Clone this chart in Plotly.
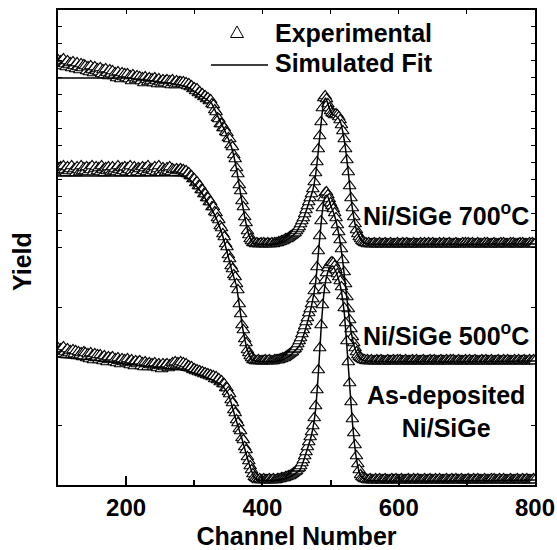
import plotly.graph_objects as go

# ---------------- data ----------------
channels = list(range(100, 801, 2))          # channel grid of the experimental spectra

exp_700 = [
    184,179,183,178,185,180,177,183,179,181,
    176,182,178,175,181,177,174,180,176,179,
    178,173,177,172,178,174,171,177,173,175,
    172,176,170,174,169,175,171,168,174,170,
    173,168,171,166,172,168,165,171,167,170,
    166,170,165,168,163,169,166,164,168,165,
    167,163,166,161,167,164,162,166,163,165,
    161,166,163,160,165,162,160,164,161,163,
    164,160,163,159,164,161,159,163,160,162,
    162,160,162,159,161,158,160,157,158,155,
    156,153,155,151,152,149,150,147,148,145,
    146,143,144,140,139,134,132,126,125,120,
    120,116,116,112,111,106,105,99,97,89,
    85,76,70,59,53,43,37,27,21,13,
    9,5,3,1,1,0,1,0,0,1,
    0,1,0,0,1,0,0,1,0,1,
    1,1,2,2,3,3,4,5,5,6,
    7,8,9,10,11,13,15,17,20,23,
    26,30,34,38,42,46,50,55,62,71,
    82,95,108,122,136,146,148,145,140,136,
    133,131,130,129,130,129,127,124,119,113,
    105,95,84,72,58,46,36,27,20,14,
    10,7,5,3,2,1,1,0,1,0,
    0,0,1,0,0,0,1,0,0,0,
    1,0,0,0,1,0,0,0,0,1,
    0,0,0,1,0,0,1,0,0,0,
    0,1,0,0,0,0,1,0,0,1,
    0,0,1,0,0,1,0,0,0,0,
    1,0,0,1,0,0,0,1,0,0,
    0,0,1,0,0,0,0,1,0,1,
    0,1,0,0,1,0,0,0,1,0,
    0,0,0,1,0,1,0,0,0,0,
    1,0,0,0,0,1,0,1,0,0,
    0,0,1,0,1,0,0,0,0,1,
    0,1,0,0,0,0,1,0,1,0,
    0,
]

exp_500 = [
    193,189,194,190,195,191,188,194,190,192,
    195,190,192,188,194,191,189,195,190,193,
    190,194,189,193,191,195,189,192,194,190,
    193,189,195,191,188,193,190,194,191,189,
    194,190,192,189,195,191,188,193,190,194,
    189,193,191,195,190,188,194,191,189,193,
    192,188,194,190,193,189,195,191,188,192,
    190,194,189,192,195,190,188,193,191,189,
    193,190,194,189,192,191,188,192,190,191,
    192,190,191,189,190,187,188,185,185,182,
    182,178,179,175,175,171,171,167,167,163,
    163,159,159,154,154,149,148,143,141,135,
    133,127,124,117,114,106,102,95,92,86,
    84,77,71,57,47,36,31,22,18,11,
    8,5,3,1,1,0,0,1,0,0,
    0,0,1,0,0,1,0,0,0,1,
    1,1,1,2,2,3,3,4,5,6,
    7,8,9,11,12,14,17,20,23,27,
    31,35,39,43,48,52,57,62,70,80,
    94,110,125,140,153,163,168,169,166,162,
    158,155,152,148,143,136,129,121,112,101,
    89,77,64,52,41,32,24,18,13,9,
    6,4,3,2,1,1,0,1,0,0,
    1,0,0,0,1,0,0,1,0,0,
    0,0,1,0,0,0,1,0,0,1,
    0,1,0,0,0,1,0,0,0,0,
    1,0,0,1,0,0,0,0,1,0,
    0,0,0,1,0,0,1,0,0,0,
    0,1,0,0,0,1,0,0,1,0,
    1,0,0,0,1,0,0,0,0,1,
    0,0,1,0,0,0,1,0,0,0,
    0,1,0,0,1,0,0,0,1,0,
    0,0,0,1,0,0,0,1,0,0,
    1,0,0,0,0,1,0,0,1,0,
    0,0,1,0,0,0,1,0,0,1,
    0,
]

exp_as = [
    132,127,131,126,133,128,125,131,127,129,
    125,130,126,129,124,128,125,127,123,128,
    127,122,126,121,127,124,120,126,122,125,
    120,125,122,119,124,121,118,123,120,122,
    123,118,121,117,122,119,116,121,118,120,
    117,121,118,115,120,117,114,119,116,118,
    119,114,117,113,118,116,113,117,115,116,
    113,117,114,112,116,114,111,116,113,115,
    116,112,115,113,117,114,118,115,117,116,
    118,115,117,114,116,113,114,112,113,110,
    111,109,110,108,109,107,108,106,107,105,
    106,104,105,103,104,101,103,100,101,98,
    99,96,96,92,92,88,86,80,77,70,
    67,60,57,51,49,42,40,33,30,23,
    19,14,10,6,3,2,1,0,1,0,
    0,1,0,0,0,1,0,0,1,0,
    0,1,1,1,2,2,2,3,3,4,
    4,5,6,7,8,9,11,12,14,17,
    20,24,28,33,38,43,48,54,62,74,
    90,110,132,155,175,190,200,207,212,215,
    217,218,217,214,210,206,203,199,193,184,
    172,157,139,118,97,78,61,47,35,24,
    16,10,5,3,2,1,1,0,0,1,
    0,0,0,1,0,0,1,0,0,0,
    1,0,0,0,0,1,0,0,1,0,
    0,0,1,0,0,0,0,1,0,0,
    0,1,0,0,1,0,0,0,0,1,
    0,0,0,1,0,0,0,1,0,0,
    1,0,0,0,0,1,0,0,0,1,
    0,0,1,0,0,0,1,0,0,0,
    0,1,0,0,0,1,0,0,1,0,
    0,0,0,1,0,0,0,0,1,0,
    1,0,0,0,1,0,0,1,0,0,
    0,0,1,0,0,0,0,1,0,0,
    0,1,0,0,1,0,0,0,0,1,
    0,
]

fit_700_ch = [100,150,200,240,270,290,310,325,335,345,355,362,368,374,380,386,392,420,430,440,
              450,460,468,474,478,482,486,490,493,497,502,508,514,518,522,526,530,534,538,544,
              550,556,800]
fit_700 = [166,166,166,163,160,157,148,141,127,113,96,75,50,27,9,1,0,0,2,6,
           12,25,41,54,69,93,120,143,146,138,130,128,123,112,95,72,46,27,14,5,
           1,0,0]

fit_500_ch = [100,200,280,290,300,310,320,330,340,350,356,362,366,372,378,384,390,425,440,455,
              465,472,478,484,488,492,495,500,506,512,518,524,530,536,544,552,800]
fit_500 = [185,185,185,183,177,169,158,146,129,104,88,75,56,29,11,2,0,0,5,16,
           36,55,78,122,150,165,166,156,145,127,99,62,30,12,2,0,0]

fit_as_ch = [100,150,200,250,280,300,320,340,350,360,370,380,388,394,425,440,455,465,472,478,
             482,486,490,494,498,503,508,514,520,526,532,538,544,552,800]
fit_as = [123,120,116,112,110,107,102,95,86,63,41,17,3,0,0,3,10,29,45,70,
          106,150,185,203,211,214,208,195,168,114,58,21,4,0,0]

# vertical stacking offsets of the three spectra (yield units)
offset_700 = 236
offset_500 = 119
offset_as = 0

x_ticks = [200, 400, 600, 800]
x_minor = [300, 500, 700]
x_top_ticks = [200, 300, 400, 500, 600, 700]

# ---------------- figure ----------------
FONT = "Liberation Sans, Arial, Helvetica, sans-serif"
W, H = 557, 550
L, R, T, B = 58, 22, 10, 65
PW, PH = W - L - R, H - T - B


def P(px, py):
    """pixel position -> paper coordinates"""
    return (px - L) / PW, (H - B - py) / PH


fig = go.Figure()

marker = dict(symbol="triangle-up", size=11, color="white",
              line=dict(color="black", width=1.2))

for vals, off in [(exp_700, offset_700), (exp_500, offset_500), (exp_as, offset_as)]:
    fig.add_trace(go.Scatter(x=channels, y=[v + off for v in vals], mode="markers",
                             marker=marker, showlegend=False, hoverinfo="skip"))

for chs, vals, off in [(fit_700_ch, fit_700, offset_700), (fit_500_ch, fit_500, offset_500),
                       (fit_as_ch, fit_as, offset_as)]:
    fig.add_trace(go.Scatter(x=chs, y=[v + off for v in vals], mode="lines",
                             line=dict(color="black", width=1.5, shape="spline", smoothing=0.4),
                             xaxis="x2", showlegend=False, hoverinfo="skip"))

fig.update_layout(
    width=W, height=H,
    margin=dict(l=L, r=R, t=T, b=B, autoexpand=False),
    paper_bgcolor="white", plot_bgcolor="white",
    showlegend=False,
    font=dict(family=FONT, color="black"),
    xaxis=dict(range=[100, 800], showline=True, linewidth=2, linecolor="black",
               mirror=False, showgrid=False, zeroline=False, automargin=False,
               ticks="inside", tickvals=x_ticks, ticktext=[str(v) for v in x_ticks],
               ticklen=9, tickwidth=1.5, tickcolor="black",
               tickfont=dict(family=FONT, size=24, weight="bold"),
               minor=dict(tickvals=x_minor, ticks="inside", ticklen=5, tickwidth=1.5,
                          tickcolor="black", showgrid=False),
               title=dict(text="Channel Number", standoff=11,
                          font=dict(family=FONT, size=25, weight="bold"))),
    xaxis2=dict(overlaying="x", matches="x", side="top", anchor="y",
                showline=True, linewidth=2, linecolor="black", showgrid=False, zeroline=False,
                ticks="inside", tickvals=x_top_ticks, ticklen=4, tickwidth=1,
                tickcolor="black", showticklabels=False),
    yaxis=dict(range=[-5, 470], showline=True, linewidth=2, linecolor="black",
               mirror="ticks", showgrid=False, zeroline=False, automargin=False,
               ticks="inside", ticklen=4, tickwidth=1, tickcolor="black",
               tickvals=[454, 437, 420, 403, 386, 369, 352, 335, 318, 301, 284, 267, 250, 233,
                         173, 55],
               showticklabels=False),
)

ann = []
yx, yy = P(22, 262)
ann.append(dict(text="Yield", x=yx, y=yy, xref="paper", yref="paper", showarrow=False,
                xanchor="center", yanchor="middle",
                textangle=-90, font=dict(family=FONT, size=25, weight="bold")))

lx, ly = P(273, 33)
ann.append(dict(text="Experimental", x=lx, y=ly, xref="paper", yref="paper", showarrow=False,
                xanchor="left", yanchor="middle", font=dict(family=FONT, size=25, weight="bold")))
lx, ly = P(273, 63)
ann.append(dict(text="Simulated Fit", x=lx, y=ly, xref="paper", yref="paper", showarrow=False,
                xanchor="left", yanchor="middle", font=dict(family=FONT, size=25, weight="bold")))

tx, ty = P(531, 214)
ann.append(dict(text="Ni/SiGe 700<sup>o</sup>C", x=tx, y=ty, xref="paper", yref="paper",
                showarrow=False, xanchor="right", yanchor="middle",
                font=dict(family=FONT, size=25, weight="bold")))
tx, ty = P(531, 334)
ann.append(dict(text="Ni/SiGe 500<sup>o</sup>C", x=tx, y=ty, xref="paper", yref="paper",
                showarrow=False, xanchor="right", yanchor="middle",
                font=dict(family=FONT, size=25, weight="bold")))
tx, ty = P(446, 411)
ann.append(dict(text="As-deposited<br>Ni/SiGe", x=tx, y=ty, xref="paper", yref="paper",
                showarrow=False, xanchor="center", yanchor="middle", align="center",
                font=dict(family=FONT, size=25, weight="bold")))
fig.update_layout(annotations=ann)

# legend symbols
a = P(237, 26); bl = P(230.5, 37.5); br = P(243.5, 37.5)
shapes = [
    dict(type="path", xref="paper", yref="paper",
         path=f"M {a[0]},{a[1]} L {bl[0]},{bl[1]} L {br[0]},{br[1]} Z",
         line=dict(color="black", width=1), fillcolor="white"),
]
l0 = P(211, 65); l1 = P(268, 65)
shapes.append(dict(type="line", xref="paper", yref="paper", x0=l0[0], y0=l0[1],
                   x1=l1[0], y1=l1[1], line=dict(color="black", width=1.5)))
fig.update_layout(shapes=shapes)

fig.write_html("out.html", config={"displayModeBar": False},
               post_script="document.body.style.margin='0';document.body.style.padding='0';")
